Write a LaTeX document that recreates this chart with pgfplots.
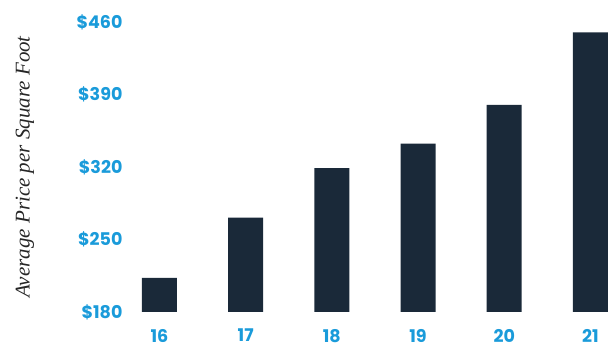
\documentclass[border=0pt]{standalone}
\usepackage{pgfplots}
\pgfplotsset{compat=1.18}
\usepackage{fontspec}
\setmainfont{Poppins}
\newfontfamily\labelfont{Liberation Serif}
\definecolor{barnavy}{HTML}{1A2939}
\definecolor{tickblue}{HTML}{1A9BDA}
\begin{document}
\begin{tikzpicture}
\begin{axis}[
  scale only axis,
  width=480pt, height=290pt,
  xmin=-0.342, xmax=5.226,
  ymin=180, ymax=460,
  axis line style={draw=none},
  major tick length=0pt,
  xtick={0,1,2,3,4,5},
  xticklabels={16,17,18,19,20,21},
  ytick={180,250,320,390,460},
  yticklabels={\$180,\$250,\$320,\$390,\$460},
  ticklabel style={font=\fontsize{17.5}{19}\selectfont\bfseries, text=tickblue},
  xticklabel style={inner sep=0pt, yshift=-17pt},
  yticklabel style={xshift=-4pt},
  ylabel={Average Price per Square Foot},
  ylabel style={at={(rel axis cs:0,0.5)}, anchor=center, yshift=105pt, text=black!85, font=\fontsize{21}{23}\selectfont\labelfont\itshape},
  clip=false,
]
\addplot[ybar, bar width=35pt, fill=barnavy, draw=none] coordinates {
  (0,213) (1,271) (2,319) (3,342.5) (4,380) (5,450)
};
\end{axis}
\path (current axis.south west) ++(-130pt,-34pt) rectangle ++(610pt,346pt);
\end{tikzpicture}
\end{document}
